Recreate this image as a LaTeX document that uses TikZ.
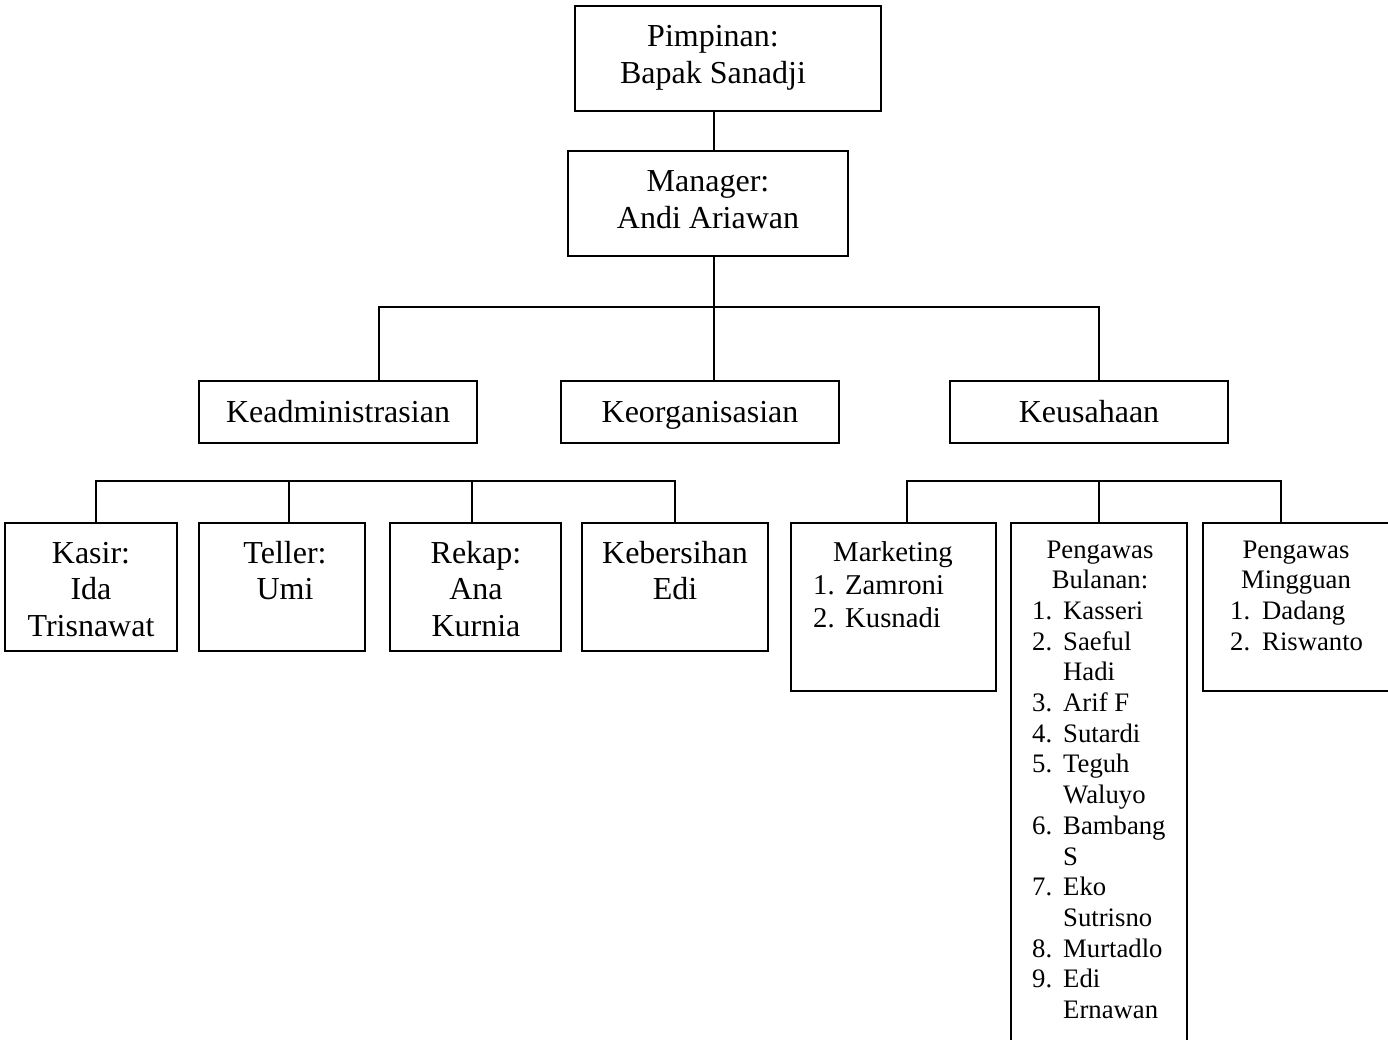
\documentclass[tikz,border=0pt]{standalone}
\usepackage{fontspec}
\setmainfont{Liberation Serif}
\begin{document}
\begin{tikzpicture}[x=1pt,y=-1pt,
  box/.style={draw=black,line width=1.8pt,rectangle,inner sep=0pt},
  lbl/.style={inner sep=0pt,anchor=base},
  lst/.style={inner sep=0pt,anchor=base west},
  link/.style={draw=black,line width=1.8pt},
  big/.style={font=\fontsize{32}{36.8}\selectfont},
  mid/.style={font=\fontsize{28.7}{33}\selectfont},
  sml/.style={font=\fontsize{26.7}{30.7}\selectfont}]
\useasboundingbox (0,0) rectangle (1388,1040);
\clip (0,0) rectangle (1388,1040);
\fill[white] (0,0) rectangle (1388,1040);

% boxes
\node[box,minimum width=306pt,minimum height=105pt] (pim) at (728,58.5) {};
\node[box,minimum width=280pt,minimum height=105pt] (man) at (708,203.5) {};
\node[box,minimum width=278pt,minimum height=62pt] (kadm) at (338,412) {};
\node[box,minimum width=278pt,minimum height=62pt] (korg) at (700,412) {};
\node[box,minimum width=278pt,minimum height=62pt] (kusa) at (1089,412) {};
\node[box,minimum width=172pt,minimum height=128pt] (kasir) at (91,587) {};
\node[box,minimum width=166pt,minimum height=128pt] (teller) at (282,587) {};
\node[box,minimum width=171pt,minimum height=128pt] (rekap) at (475.5,587) {};
\node[box,minimum width=186pt,minimum height=128pt] (keber) at (675,587) {};
\node[box,minimum width=205pt,minimum height=168pt] (mkt) at (893.5,607) {};
\node[box,minimum width=176pt,minimum height=547pt] (bul) at (1099,796.5) {};
\node[box,minimum width=197pt,minimum height=168pt] (ming) at (1301.5,607) {};

% texts
\node[lbl,big] (pimT) at (713,47) {\begin{tabular}[t]{@{}c@{}}Pimpinan:\\Bapak Sanadji\end{tabular}};
\node[lbl,big] (manT) at (708,191.7) {\begin{tabular}[t]{@{}c@{}}Manager:\\Andi Ariawan\end{tabular}};
\node[lbl,big] (kadmT) at (338,422) {Keadministrasian};
\node[lbl,big] (korgT) at (700,422) {Keorganisasian};
\node[lbl,big] (kusaT) at (1089,422) {Keusahaan};
\node[lbl,big] (kasirT) at (91,563) {\begin{tabular}[t]{@{}c@{}}Kasir:\\Ida\\Trisnawat\end{tabular}};
\node[lbl,big] (tellerT) at (285,563) {\begin{tabular}[t]{@{}c@{}}Teller:\\Umi\end{tabular}};
\node[lbl,big] (rekapT) at (476,563) {\begin{tabular}[t]{@{}c@{}}Rekap:\\Ana\\Kurnia\end{tabular}};
\node[lbl,big] (keberT) at (675,563) {\begin{tabular}[t]{@{}c@{}}Kebersihan\\Edi\end{tabular}};

\node[lbl,mid] (mktT) at (893,561) {Marketing};
\node[lst,mid] (mktL) at (813,594) {\begin{tabular}[t]{@{}l@{}}\makebox[32pt][l]{1.}Zamroni\\\makebox[32pt][l]{2.}Kusnadi\end{tabular}};

\node[lbl,sml] (bulT) at (1100,558) {\begin{tabular}[t]{@{}c@{}}Pengawas\\Bulanan:\end{tabular}};
\node[lst,sml] (bulL) at (1032,619.4) {\begin{tabular}[t]{@{}l@{}}
\makebox[31pt][l]{1.}Kasseri\\
\makebox[31pt][l]{2.}Saeful\\
\makebox[31pt][l]{}Hadi\\
\makebox[31pt][l]{3.}Arif F\\
\makebox[31pt][l]{4.}Sutardi\\
\makebox[31pt][l]{5.}Teguh\\
\makebox[31pt][l]{}Waluyo\\
\makebox[31pt][l]{6.}Bambang\\
\makebox[31pt][l]{}S\\
\makebox[31pt][l]{7.}Eko\\
\makebox[31pt][l]{}Sutrisno\\
\makebox[31pt][l]{8.}Murtadlo\\
\makebox[31pt][l]{9.}Edi\\
\makebox[31pt][l]{}Ernawan\end{tabular}};

\node[lbl,sml] (mingT) at (1296,558) {\begin{tabular}[t]{@{}c@{}}Pengawas\\Mingguan\end{tabular}};
\node[lst,sml] (mingL) at (1230,619.4) {\begin{tabular}[t]{@{}l@{}}\makebox[32pt][l]{1.}Dadang\\\makebox[32pt][l]{2.}Riswanto\end{tabular}};

% connectors
\coordinate (c1) at (714,0);
\coordinate (j1) at (379,307);
\coordinate (j2) at (714,307);
\coordinate (j3) at (1099,307);
\draw[link] (pim.south -| c1) -- (man.north -| c1);
\draw[link] (man.south -| j2) -- (j2);
\draw[link] (kadm.north -| j1) -- (j1) -- (j3) -- (kusa.north -| j3);
\draw[link] (j2) -- (korg.north -| j2);

\coordinate (k1) at (96,481);
\coordinate (k2) at (289,481);
\coordinate (k3) at (472,481);
\coordinate (k4) at (675,481);
\draw[link] (kasir.north -| k1) -- (k1) -- (k4) -- (keber.north -| k4);
\draw[link] (k2) -- (teller.north -| k2);
\draw[link] (k3) -- (rekap.north -| k3);

\coordinate (r1) at (907,481);
\coordinate (r2) at (1099,481);
\coordinate (r3) at (1281,481);
\draw[link] (mkt.north -| r1) -- (r1) -- (r3) -- (ming.north -| r3);
\draw[link] (r2) -- (bul.north -| r2);
\end{tikzpicture}
\end{document}
